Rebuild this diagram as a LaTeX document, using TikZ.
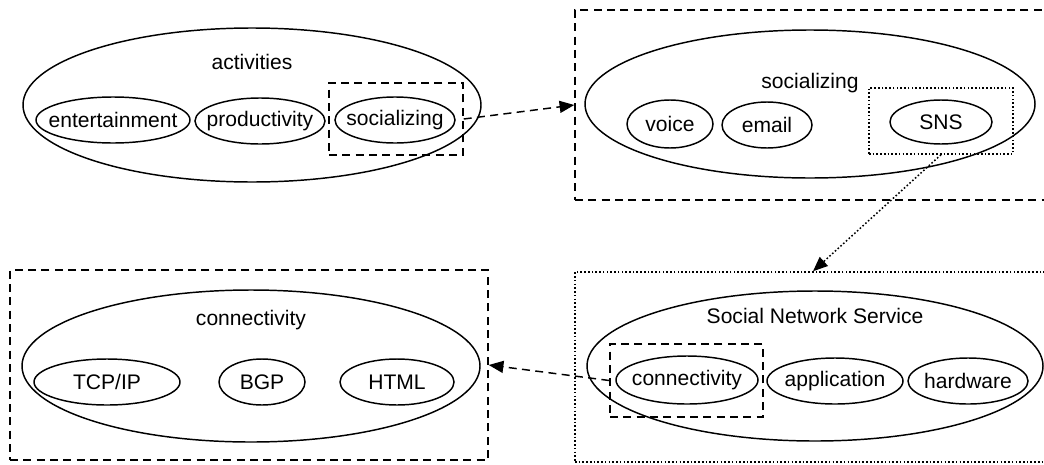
\documentclass[tikz,border=0pt]{standalone}
\usepackage{fontspec}
\setmainfont{Liberation Sans}
\usetikzlibrary{shapes.geometric,arrows.meta}
\begin{document}
\begin{tikzpicture}[x=0.75pt,y=-0.75pt,
  every node/.style={font=\fontsize{15.8}{19}\selectfont},
  ell/.style={draw,ellipse,line width=1.1pt,inner sep=0pt},
  txt/.style={label={[inner sep=0pt]center:#1}},
  lbl/.style={inner sep=0pt},
  dbox/.style={draw,rectangle,line width=1.1pt,dash pattern=on 6pt off 4pt,inner sep=0pt},
  obox/.style={draw,rectangle,line width=1.1pt,dash pattern=on 1.2pt off 1.6pt,inner sep=0pt},
  darr/.style={line width=1.1pt,dash pattern=on 6pt off 4pt,-{Triangle[length=11pt,width=9pt]}},
  oarr/.style={line width=1.1pt,dash pattern=on 1.2pt off 1.6pt,-{Triangle[length=11pt,width=9pt]}}]
\useasboundingbox (0,0) rectangle (1044,464);
\clip (0,0) rectangle (1044,464);
% top left
\node[ell,minimum width=343.5pt,minimum height=115.5pt] (act) at (252,105) {};
\node[lbl] (actl) at (252,62) {activities};
\node[ell,minimum width=115.5pt,minimum height=34.5pt,txt=entertainment] (ent) at (113,120) {};
\node[ell,minimum width=97.5pt,minimum height=34.5pt,txt=productivity] (prod) at (260,121) {};
\node[ell,minimum width=90pt,minimum height=34.5pt,txt=socializing] (soc) at (395,120) {};
\node[dbox,minimum width=100.5pt,minimum height=54pt] (sbox) at (396,119) {};
% top right
\node[dbox,minimum width=363.75pt,minimum height=142.5pt] (trbox) at (817.5,105) {};
\node[ell,minimum width=337.5pt,minimum height=111pt] (socb) at (810,104) {};
\node[lbl] (socl) at (810,83) {socializing};
\node[ell,minimum width=64.5pt,minimum height=36pt,txt=voice] (voice) at (670,124) {};
\node[ell,minimum width=67.5pt,minimum height=34.5pt,txt=email] (email) at (767,125) {};
\node[ell,minimum width=76.5pt,minimum height=33pt,txt=SNS] (sns) at (941,122) {};
\node[obox,minimum width=108pt,minimum height=49.5pt] (snsbox) at (941,121) {};
% bottom right
\node[obox,minimum width=357pt,minimum height=142.5pt] (brbox) at (813,367) {};
\node[ell,minimum width=342pt,minimum height=112.5pt] (snsb) at (815,366) {};
\node[lbl] (snsl) at (815,316) {Social Network Service};
\node[ell,minimum width=106.5pt,minimum height=36pt,txt=connectivity] (conn) at (687,380) {};
\node[dbox,minimum width=114.75pt,minimum height=54.75pt] (cbox) at (686.5,380.5) {};
\node[ell,minimum width=102pt,minimum height=34.5pt,txt=application] (app) at (835,381) {};
\node[ell,minimum width=90pt,minimum height=34.5pt,txt=hardware] (hw) at (968,381) {};
% bottom left
\node[dbox,minimum width=358.5pt,minimum height=142.5pt] (blbox) at (249,365) {};
\node[ell,minimum width=343.5pt,minimum height=114pt] (connb) at (251,366) {};
\node[lbl] (connl) at (251,320) {connectivity};
\node[ell,minimum width=109.5pt,minimum height=34.5pt,txt=TCP/IP] (tcp) at (107,382) {};
\node[ell,minimum width=64.5pt,minimum height=34.5pt,txt=BGP] (bgp) at (262,382) {};
\node[ell,minimum width=85.5pt,minimum height=34.5pt,txt=HTML] (html) at (397,382) {};
% connectors
\draw[darr] (sbox.east) -- (trbox.west);
\draw[oarr] (snsbox.south) -- (brbox.north);
\draw[darr] (cbox.west) -- (blbox.east);
\end{tikzpicture}
\end{document}
